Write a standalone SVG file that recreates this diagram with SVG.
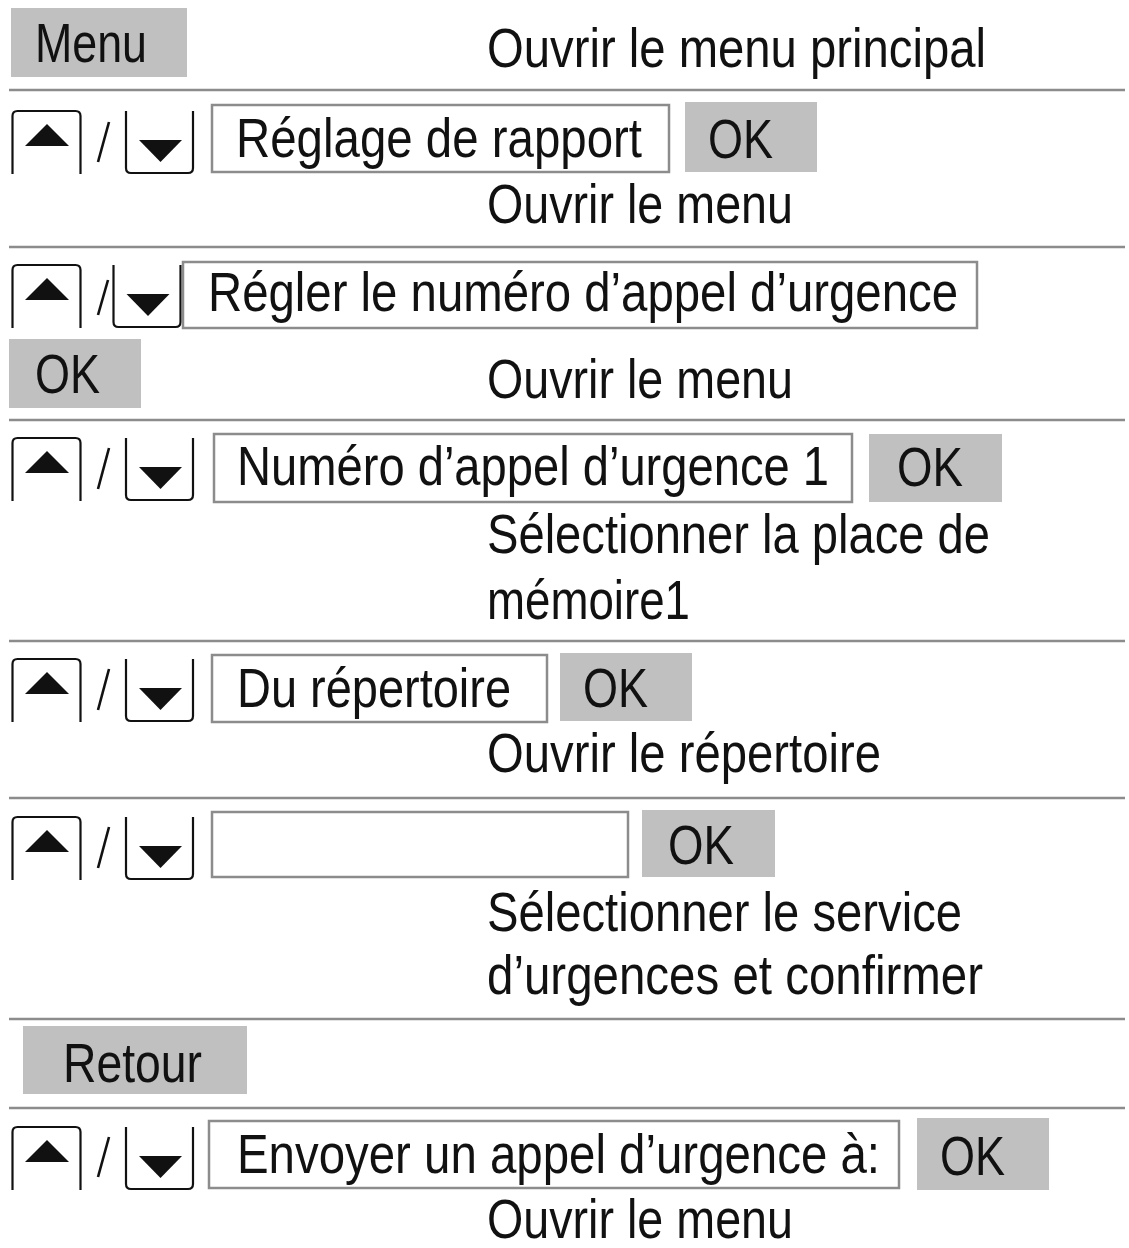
<svg xmlns="http://www.w3.org/2000/svg" xmlns:xlink="http://www.w3.org/1999/xlink" width="1129" height="1248" viewBox="0 0 1129 1248">
<style>
.t{font-family:"Liberation Sans",Arial,sans-serif;font-size:56px;fill:#111}
.key{fill:#c0c0c0}
.field{fill:#fff;stroke:#8c8c8c;stroke-width:2.5}
.sep{stroke:#8c8c8c;stroke-width:2.5;fill:none}
.btn{fill:none;stroke:#111;stroke-width:2.2}
.tri{fill:#111}
.sl{stroke:#111;stroke-width:2.6;stroke-linecap:butt}
</style>
<defs>
<g id="up"><path class="btn" d="M0,63 V5 Q0,0 5,0 H63 Q68,0 68,5 V63"/><path class="tri" d="M12.5,35 L34.5,13 L56.5,35 Z"/></g>
<g id="down"><path class="btn" d="M0,0 V57 Q0,62 5,62 H62 Q67,62 67,57 V0"/><path class="tri" d="M13,29 L56,29 L34.5,51 Z"/></g>
</defs>
<rect width="1129" height="1248" fill="#fff"/>
<g id="connectors">
<line class="sep" x1="9" y1="90" x2="1125" y2="90"/>
<line class="sep" x1="9" y1="247" x2="1125" y2="247"/>
<line class="sep" x1="9" y1="420" x2="1125" y2="420"/>
<line class="sep" x1="9" y1="641" x2="1125" y2="641"/>
<line class="sep" x1="9" y1="798" x2="1125" y2="798"/>
<line class="sep" x1="9" y1="1019" x2="1125" y2="1019"/>
<line class="sep" x1="9" y1="1108" x2="1125" y2="1108"/>
</g>
<g id="row1">
<rect class="key" x="11" y="8" width="176" height="69"/>
<text class="t" x="35" y="62" font-size="58" textLength="112" lengthAdjust="spacingAndGlyphs">Menu</text>
<text class="t" x="487" y="67" font-size="54" textLength="499" lengthAdjust="spacingAndGlyphs">Ouvrir le menu principal</text>
</g>
<g id="row2">
<use xlink:href="#up" x="12.5" y="111"/>
<line class="sl" x1="98" y1="162" x2="109" y2="122"/>
<use xlink:href="#down" x="126" y="111"/>
<rect class="field" x="212" y="105" width="457" height="67"/>
<text class="t" x="236" y="157" textLength="406" lengthAdjust="spacingAndGlyphs">Réglage de rapport</text>
<rect class="key" x="685" y="102" width="132" height="70"/>
<text class="t" x="708" y="158" textLength="65" lengthAdjust="spacingAndGlyphs">OK</text>
<text class="t" x="487" y="223" textLength="306" lengthAdjust="spacingAndGlyphs">Ouvrir le menu</text>
</g>
<g id="row3">
<use xlink:href="#up" x="12.5" y="265"/>
<line class="sl" x1="98" y1="315" x2="108" y2="280"/>
<use xlink:href="#down" x="113.5" y="265"/>
<rect class="field" x="183" y="262" width="794" height="66"/>
<text class="t" x="208" y="311" textLength="750" lengthAdjust="spacingAndGlyphs">Régler le numéro d’appel d’urgence</text>
<rect class="key" x="9" y="339" width="132" height="69"/>
<text class="t" x="35" y="393" textLength="65" lengthAdjust="spacingAndGlyphs">OK</text>
<text class="t" x="487" y="398" textLength="306" lengthAdjust="spacingAndGlyphs">Ouvrir le menu</text>
</g>
<g id="row4">
<use xlink:href="#up" x="12.5" y="438"/>
<line class="sl" x1="98" y1="489" x2="109" y2="448"/>
<use xlink:href="#down" x="126" y="438"/>
<rect class="field" x="214" y="434" width="638" height="68"/>
<text class="t" x="237" y="485" textLength="592" lengthAdjust="spacingAndGlyphs">Numéro d’appel d’urgence 1</text>
<rect class="key" x="869" y="434" width="133" height="68"/>
<text class="t" x="897" y="486" textLength="66" lengthAdjust="spacingAndGlyphs">OK</text>
<text class="t" x="487" y="553" textLength="503" lengthAdjust="spacingAndGlyphs">Sélectionner la place de</text>
<text class="t" x="487" y="619" textLength="203" lengthAdjust="spacingAndGlyphs">mémoire1</text>
</g>
<g id="row5">
<use xlink:href="#up" x="12.5" y="659"/>
<line class="sl" x1="98" y1="710" x2="109" y2="669"/>
<use xlink:href="#down" x="126" y="659"/>
<rect class="field" x="212" y="655" width="335" height="67"/>
<text class="t" x="237" y="707" textLength="274" lengthAdjust="spacingAndGlyphs">Du répertoire</text>
<rect class="key" x="560" y="653" width="132" height="68"/>
<text class="t" x="583" y="707" textLength="65" lengthAdjust="spacingAndGlyphs">OK</text>
<text class="t" x="487" y="772" textLength="394" lengthAdjust="spacingAndGlyphs">Ouvrir le répertoire</text>
</g>
<g id="row6">
<use xlink:href="#up" x="12.5" y="817"/>
<line class="sl" x1="98" y1="868" x2="109" y2="827"/>
<use xlink:href="#down" x="126" y="817"/>
<rect class="field" x="212" y="812" width="416" height="65"/>
<rect class="key" x="642" y="810" width="133" height="67"/>
<text class="t" x="668" y="864" textLength="66" lengthAdjust="spacingAndGlyphs">OK</text>
<text class="t" x="487" y="931" textLength="475" lengthAdjust="spacingAndGlyphs">Sélectionner le service</text>
<text class="t" x="487" y="994" textLength="496" lengthAdjust="spacingAndGlyphs">d’urgences et confirmer</text>
</g>
<g id="row7">
<rect class="key" x="23" y="1026" width="224" height="68"/>
<text class="t" x="63" y="1082" textLength="139" lengthAdjust="spacingAndGlyphs">Retour</text>
</g>
<g id="row8">
<use xlink:href="#up" x="12.5" y="1127"/>
<line class="sl" x1="98" y1="1177" x2="109" y2="1137"/>
<use xlink:href="#down" x="126" y="1127"/>
<rect class="field" x="209" y="1121" width="690" height="67"/>
<text class="t" x="237" y="1173" textLength="643" lengthAdjust="spacingAndGlyphs">Envoyer un appel d’urgence à:</text>
<rect class="key" x="917" y="1118" width="132" height="72"/>
<text class="t" x="940" y="1175" textLength="65" lengthAdjust="spacingAndGlyphs">OK</text>
<text class="t" x="487" y="1238" textLength="306" lengthAdjust="spacingAndGlyphs">Ouvrir le menu</text>
</g>
</svg>
